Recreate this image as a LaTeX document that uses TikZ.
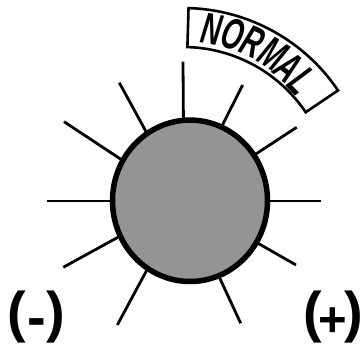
\documentclass[tikz,border=0pt]{standalone}
\usepackage{fontspec}
\setmainfont{Liberation Sans}
\newfontfamily\bannerfont{Liberation Sans}
\newcommand\bl[1]{{\bannerfont\bfseries\itshape\fontsize{44}{44}\selectfont\scalebox{0.62}[1]{#1}}}
\begin{document}
\begin{tikzpicture}[x=1pt,y=1pt,
  ray/.style={line width=2.8pt},
  dialface/.style={line width=5.5pt, fill=black!42},
  banner/.style={line width=2.6pt, fill=white},
  bannerletter/.style={inner sep=0pt},
  signlabel/.style={inner sep=0pt, anchor=base, font=\bfseries\fontsize{56}{56}\selectfont}]
\useasboundingbox (0,0) rectangle (360,344);
% ray centre and dial centre
\coordinate (rc) at (184,143);
\coordinate (dialc) at (190,143.2);
% rays
\foreach \x/\y in {183/282.3, 119.3/261.3, 64/222.3, 47/143, 242.7/259, 296.7/216.7,
                   321/143, 63.3/76.7, 117.3/19, 240.7/20.7, 296/79}
  \draw[ray] (\x,\y) -- (rc);
% dial
\draw[dialface] (dialc) ellipse [x radius=77.5, y radius=80.7];
% NORMAL banner
\coordinate (bc) at (183,149);
\draw[banner] ([shift={(34:148)}]bc) arc[start angle=34, end angle=88.3, radius=148]
  -- ([shift={(88.3:187)}]bc) arc[start angle=88.3, end angle=34, radius=187] -- cycle;
\node[bannerletter, rotate=-10]   (lN) at ([shift={(80:168)}]bc)   {\bl{N}};
\node[bannerletter, rotate=-17.2] (lO) at ([shift={(72.8:168)}]bc) {\bl{O}};
\node[bannerletter, rotate=-24.5] (lR) at ([shift={(65.5:168)}]bc) {\bl{R}};
\node[bannerletter, rotate=-32.5] (lM) at ([shift={(57.5:167)}]bc) {\bl{M}};
\node[bannerletter, rotate=-39.4] (lA) at ([shift={(50.6:166)}]bc) {\bl{A}};
\node[bannerletter, rotate=-46.3] (lL) at ([shift={(43.7:165)}]bc) {\bl{L}};
% signs
\node[signlabel] (minus) at (36.5,12.5) {(\kern1pt\raisebox{-5pt}{-}\kern1pt)};
\node[signlabel] (plus) at (333.3,12) {(\kern-3pt\raisebox{-5pt}{\fontsize{49}{49}\selectfont+}\kern-3pt)};
\end{tikzpicture}
\end{document}
